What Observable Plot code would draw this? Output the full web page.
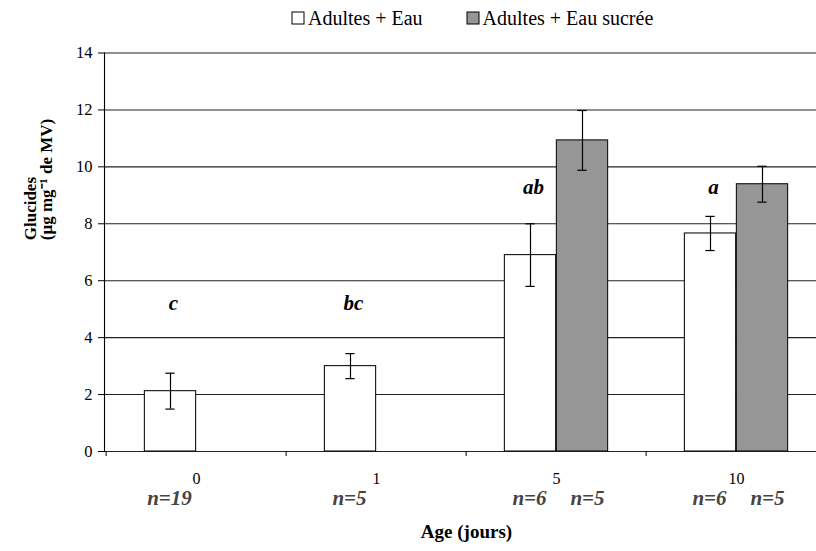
<!DOCTYPE html>
<html><head><meta charset="utf-8">
<script src="https://cdn.jsdelivr.net/npm/d3@7"></script>
<script src="https://cdn.jsdelivr.net/npm/@observablehq/plot@0.6"></script>
<style>
body{margin:0;background:#fff;}
#chart{width:816px;height:551px;overflow:hidden;}
#chart, #chart *{font-family:"Liberation Serif",serif !important;}
.lg-swatches{font-size:20px !important;height:36px !important;min-height:36px !important;margin:0 !important;padding-left:292px;box-sizing:border-box;color:#000;}
.lg-swatch{margin-right:44px !important;}
.lg-swatch svg{margin-right:4px !important;overflow:visible;}
.lg-swatch svg rect{stroke:#000;stroke-width:1px;}
</style></head><body><div id="chart"></div>
<script>
const ages = ["0", "1", "5", "10"];
const series = ["Adultes + Eau", "Adultes + Eau sucrée"];
const eauMean = [2.12, 3.0, 6.9, 7.66];
const eauErr = [0.63, 0.44, 1.1, 0.6];
const sucreeMean = [null, null, 10.93, 9.39];
const sucreeErr = [null, null, 1.05, 0.63];
const letters = ["c", "bc", "ab", "a"];
const letterY = [5.2, 5.2, 9.3, 9.3];
const nEau = ["n=19", "n=5", "n=6", "n=6"];
const nSucree = [null, null, "n=5", "n=5"];
const yTicks = [0, 2, 4, 6, 8, 10, 12, 14];

const eauRows = ages.map((a, i) => ({age: a, v: eauMean[i], lo: eauMean[i] - eauErr[i], hi: eauMean[i] + eauErr[i], n: nEau[i], letter: letters[i], ly: letterY[i]}));
const sucreeRows = ages.map((a, i) => ({age: a, v: sucreeMean[i], lo: sucreeMean[i] - sucreeErr[i], hi: sucreeMean[i] + sucreeErr[i], n: nSucree[i]})).filter(d => d.v != null);

const band = (827 - 104) / 4;
const off = 26;
const font = "Liberation Serif";

const legend = Plot.legend({
  color: {type: "ordinal", domain: series, range: ["white", "#969696"]},
  swatchSize: 12,
  className: "lg"
});

const chart = Plot.plot({
  width: 816,
  height: 515,
  marginTop: 16.5,
  marginBottom: 100,
  marginLeft: 104,
  marginRight: 0,
  style: {fontFamily: font, fontSize: "16px", color: "#000", background: "white"},
  x: {domain: ages, range: [104, 827], padding: 0, axis: null},
  y: {domain: [0, 14], axis: null},
  marks: [
    Plot.ruleY(yTicks, {stroke: "#222", strokeWidth: 1.1}),
    Plot.barY(eauRows, {x: "age", y: "v", fill: "white", stroke: "#111", strokeWidth: 1.1, insetLeft: band / 2 - off * 2, insetRight: band / 2}),
    Plot.barY(sucreeRows, {x: "age", y: "v", fill: "#969696", stroke: "#111", strokeWidth: 1.1, insetLeft: band / 2, insetRight: band / 2 - off * 2}),
    Plot.ruleX(eauRows, {x: "age", y1: "lo", y2: "hi", dx: -off, stroke: "#000", strokeWidth: 1.2}),
    Plot.tickY(eauRows, {x: "age", y: "lo", dx: -off, insetLeft: band / 2 - 5, insetRight: band / 2 - 5, stroke: "#000", strokeWidth: 1.2}),
    Plot.tickY(eauRows, {x: "age", y: "hi", dx: -off, insetLeft: band / 2 - 5, insetRight: band / 2 - 5, stroke: "#000", strokeWidth: 1.2}),
    Plot.ruleX(sucreeRows, {x: "age", y1: "lo", y2: "hi", dx: off, stroke: "#000", strokeWidth: 1.2}),
    Plot.tickY(sucreeRows, {x: "age", y: "lo", dx: off, insetLeft: band / 2 - 5, insetRight: band / 2 - 5, stroke: "#000", strokeWidth: 1.2}),
    Plot.tickY(sucreeRows, {x: "age", y: "hi", dx: off, insetLeft: band / 2 - 5, insetRight: band / 2 - 5, stroke: "#000", strokeWidth: 1.2}),
    Plot.frame({anchor: "left", stroke: "#000", strokeWidth: 1.1}),
    Plot.axisY({ticks: yTicks, tickSize: 6, tickPadding: 6, fontSize: 16.5, label: null, stroke: "#000"}),
    Plot.axisX({tickSize: 5, tickFormat: () => "", dx: -band / 2, label: null, stroke: "#000"}),
    Plot.axisX({tickSize: 0, tickPadding: 21, fontSize: 16, label: null}),
    Plot.text(eauRows, {x: "age", y: "ly", text: "letter", dx: -23, fontWeight: "bold", fontStyle: "italic", fontSize: 21}),
    Plot.text(eauRows, {x: "age", text: "n", frameAnchor: "bottom", dy: 53, dx: -27, fill: "#444", fontWeight: "bold", fontStyle: "italic", fontSize: 21}),
    Plot.text(sucreeRows, {x: "age", text: "n", frameAnchor: "bottom", dy: 53, dx: 31, fill: "#444", fontWeight: "bold", fontStyle: "italic", fontSize: 21}),
    Plot.text(["Age (jours)"], {frameAnchor: "bottom", dx: 6, dy: 86, fontWeight: "bold", fontSize: 19}),
    Plot.text(["Glucides\n(µg mg⁻¹ de MV)"], {frameAnchor: "left", rotate: -90, dx: -66, dy: -12, fontWeight: "bold", fontSize: 17, lineHeight: 0.95})
  ]
});

const root = document.getElementById("chart");
root.appendChild(legend);
root.appendChild(chart);
</script></body></html>
